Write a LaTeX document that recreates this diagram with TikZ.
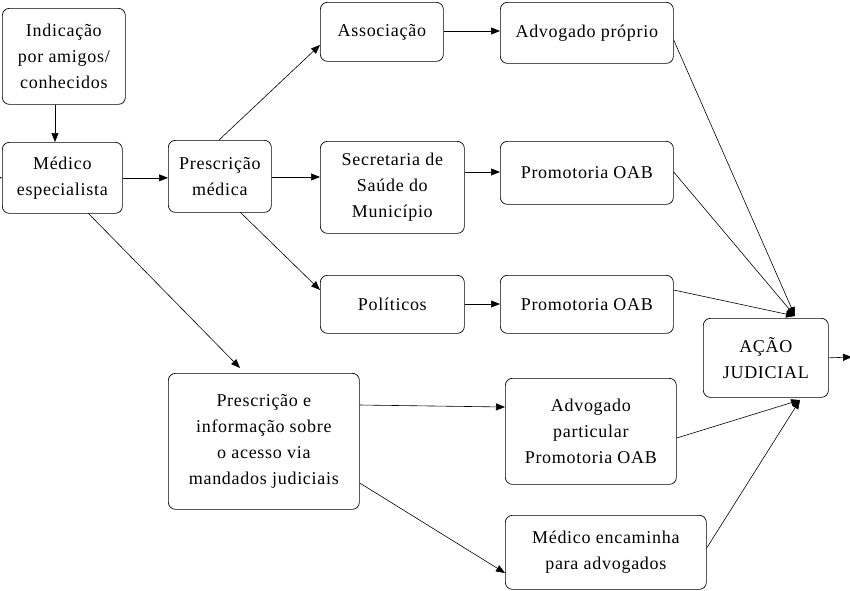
\documentclass[tikz,border=0pt]{standalone}
\usepackage{fontspec}
\setmainfont[LetterSpace=4]{Liberation Serif}
\usetikzlibrary{arrows.meta}
\begin{document}
\begin{tikzpicture}[x=1pt,y=-1pt,
 box/.style={draw,rounded corners=7pt,line width=0.7pt,anchor=north west,align=center,inner sep=0pt,font=\fontsize{18}{26}\selectfont},
 arr/.style={-{Triangle[length=9pt,width=7pt]},line width=0.6pt}]
\useasboundingbox (0,0) rectangle (850,590);
\newcommand{\bx}[6]{\node[box,minimum width=#4,minimum height=#5] (#1) at (#2,#3) {#6};}
\bx{ind}{2}{8}{123}{96}{Indicação\\por amigos/\\conhecidos}
\bx{med}{2}{142}{120}{71}{Médico\\especialista}
\bx{pre}{168}{140}{103}{72}{Prescrição\\médica}
\bx{ass}{320}{2}{123}{59}{Associação}
\bx{adp}{500}{2}{173}{61}{Advogado próprio}
\bx{sec}{320}{141}{144}{92}{Secretaria de\\Saúde do\\Município}
\bx{pr1}{500}{141}{173}{63}{Promotoria OAB}
\bx{pol}{320}{275}{144}{58}{Políticos}
\bx{pr2}{500}{275}{173}{58}{Promotoria OAB}
\bx{acao}{703}{318}{125}{79}{AÇÃO\\JUDICIAL}
\bx{pei}{168}{373}{191}{136}{Prescrição e\\informação sobre\\o acesso via\\mandados judiciais}
\bx{adv}{505}{378}{171}{106}{Advogado\\particular\\Promotoria OAB}
\bx{mee}{505}{515}{201}{74}{Médico encaminha\\para advogados}
\coordinate (l0) at (-8,177);
\coordinate (r0) at (852,357);
\draw[arr] (l0) -- (med.west);
\draw[arr] (acao.east) -- (r0);
\draw[arr] (ind.south -| 55,0) -- (med.north -| 55,0);
\draw[arr] (med.east) -- (pre.west |- med.east);
\draw[arr] (219,140) -- (ass.west |- 0,45);
\draw[arr] (pre.east |- 0,177) -- (sec.west |- 0,177);
\draw[arr] (240,212) -- (pol.west |- 0,290);
\draw[arr] (ass.east |- 0,31) -- (adp.west |- 0,31);
\draw[arr] (sec.east |- 0,172) -- (pr1.west |- 0,172);
\draw[arr] (pol.east |- 0,304) -- (pr2.west |- 0,304);
\draw[arr] (88,213) -- (240,368);
\draw[arr] (pei.east |- 0,405) -- (adv.west |- 0,407);
\draw[arr] (pei.east |- 0,483) -- (mee.west |- 0,573);
\draw[arr] (adp.east |- 0,40) -- (795,316);
\draw[arr] (pr1.east |- 0,172) -- (795,316);
\draw[arr] (pr2.east |- 0,290) -- (795,316);
\draw[arr] (adv.east |- 0,438) -- (800,400);
\draw[arr] (mee.east |- 0,548) -- (800,400);
\end{tikzpicture}
\end{document}
